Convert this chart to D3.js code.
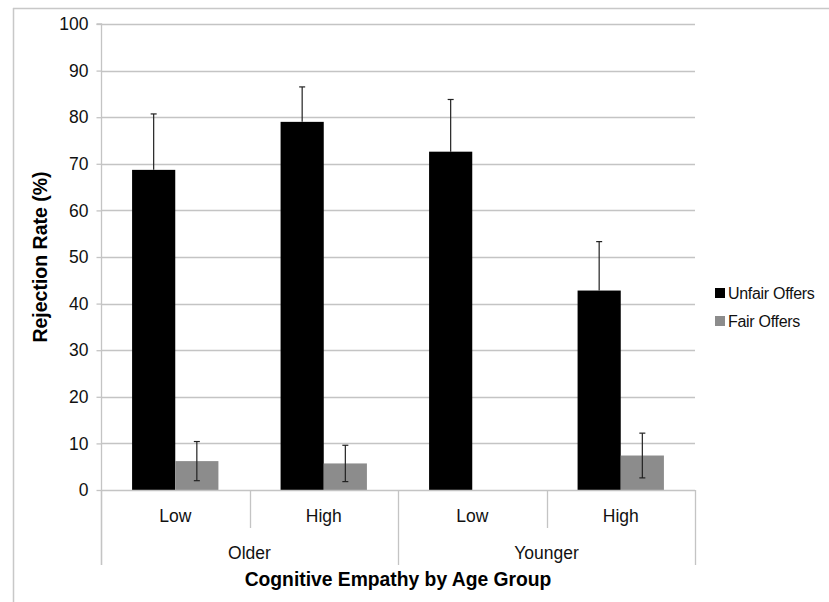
<!DOCTYPE html>
<html><head><meta charset="utf-8">
<script src="https://cdn.jsdelivr.net/npm/d3@7"></script>
<style>body{margin:0;background:#fff}svg{display:block}text{font-family:"Liberation Sans",Arial,sans-serif}</style>
</head><body>
<svg id="c" width="829" height="602"></svg>
<script>
const groups = ["Older", "Younger"];
const levels = ["Low", "High"];
const categories = ["Older-Low", "Older-High", "Younger-Low", "Younger-High"];
const seriesNames = ["Unfair Offers", "Fair Offers"];
const unfairValues = [68.7, 79.0, 72.6, 42.8];
const unfairErrors = [12.0, 7.5, 11.2, 10.5];
const fairValues = [6.2, 5.7, 0, 7.4];
const fairErrors = [4.2, 3.9, 0, 4.8];
const yTicks = [0, 10, 20, 30, 40, 50, 60, 70, 80, 90, 100];
const colors = ["#000000", "#8c8c8c"];

const svg = d3.select("#c");
const L = 101, R = 695, T = 24, B = 490;
const grid = "#c4c4c4";
const fs = 17.5;

// outer frame (top & left only visible)
svg.append("line").attr("x1", 13).attr("x2", 829).attr("y1", 8.5).attr("y2", 8.5).attr("stroke", "#c8c8c8").attr("stroke-width", 1.5);
svg.append("line").attr("x1", 13.5).attr("x2", 13.5).attr("y1", 8).attr("y2", 602).attr("stroke", "#c8c8c8").attr("stroke-width", 1.5);

const y = d3.scaleLinear().domain([0, 100]).range([B, T]);
const x0 = d3.scaleBand().domain(categories).range([L, R]);
const x1 = d3.scaleBand().domain(seriesNames).range([0, x0.bandwidth()]).paddingOuter(0.72);

// gridlines
svg.append("g").selectAll("line").data(yTicks.filter(d => d > 0)).join("line")
  .attr("x1", L).attr("x2", R).attr("y1", d => Math.round(y(d)) + 0.5).attr("y2", d => Math.round(y(d)) + 0.5)
  .attr("stroke", grid).attr("stroke-width", 1.3);

// y axis
const yAxis = d3.axisLeft(y).tickValues(yTicks).tickSize(5).tickPadding(8);
const ya = svg.append("g").attr("transform", `translate(${L + 0.5},0)`).call(yAxis);
ya.select(".domain").attr("stroke", grid).attr("stroke-width", 1.3).attr("d", `M-5,${T}H0V565`);
ya.selectAll(".tick line").attr("stroke", grid).attr("stroke-width", 1.3);
ya.selectAll(".tick text").attr("font-size", fs).attr("fill", "#111").attr("font-family", "Liberation Sans, Arial, sans-serif");

// bars
const data = categories.map((c, i) => ({ c, vals: [
  { s: seriesNames[0], v: unfairValues[i], e: unfairErrors[i], col: colors[0] },
  { s: seriesNames[1], v: fairValues[i], e: fairErrors[i], col: colors[1] }
]}));
const gc = svg.append("g").selectAll("g").data(data).join("g").attr("transform", d => `translate(${x0(d.c)},0)`);
gc.selectAll("rect").data(d => d.vals.filter(v => v.v > 0)).join("rect")
  .attr("x", d => x1(d.s)).attr("width", x1.bandwidth())
  .attr("y", d => y(d.v)).attr("height", d => B - y(d.v)).attr("fill", d => d.col);
// error bars
const cx = d => x1(d.s) + x1.bandwidth() / 2;
const eb = gc.selectAll("g.err").data(d => d.vals.filter(v => v.v > 0)).join("g").attr("class", "err");
eb.append("line").attr("x1", cx).attr("x2", cx)
  .attr("y1", d => y(d.v + d.e)).attr("y2", d => d.col === colors[0] ? y(d.v) : y(Math.max(0, d.v - d.e)))
  .attr("stroke", "#222").attr("stroke-width", 1.2);
eb.append("line").attr("x1", d => cx(d) - 3).attr("x2", d => cx(d) + 3)
  .attr("y1", d => y(d.v + d.e)).attr("y2", d => y(d.v + d.e)).attr("stroke", "#222").attr("stroke-width", 1.2);
eb.filter(d => d.col !== colors[0]).append("line").attr("x1", d => cx(d) - 3).attr("x2", d => cx(d) + 3)
  .attr("y1", d => y(d.v - d.e)).attr("y2", d => y(d.v - d.e)).attr("stroke", "#222").attr("stroke-width", 1.2);

// x axis line
svg.append("line").attr("x1", L).attr("x2", R).attr("y1", B + 0.5).attr("y2", B + 0.5).attr("stroke", grid).attr("stroke-width", 1.3);
// separators
const bounds = categories.map(c => x0(c)).concat([R]);
svg.append("g").selectAll("line").data(bounds).join("line")
  .attr("x1", d => Math.round(d) + 0.5).attr("x2", d => Math.round(d) + 0.5)
  .attr("y1", B).attr("y2", (d, i) => (i % 2 === 0) ? 565 : 528)
  .attr("stroke", grid).attr("stroke-width", 1.3);
// level labels
svg.append("g").selectAll("text").data(categories).join("text")
  .attr("x", c => x0(c) + x0.bandwidth() / 2).attr("y", 522)
  .attr("text-anchor", "middle").attr("font-size", fs).attr("fill", "#111")
  .text((c, i) => levels[i % 2]);
// group labels
svg.append("g").selectAll("text").data(groups).join("text")
  .attr("x", (g, i) => x0(categories[i * 2]) + x0.bandwidth()).attr("y", 559)
  .attr("text-anchor", "middle").attr("font-size", fs).attr("fill", "#111").text(g => g);

// axis titles
svg.append("text").attr("x", (L + R) / 2).attr("y", 586).attr("text-anchor", "middle")
  .attr("font-size", 19.3).attr("font-weight", "bold").text("Cognitive Empathy by Age Group");
svg.append("text").attr("transform", `translate(47,${(T + B) / 2}) rotate(-90)`).attr("text-anchor", "middle")
  .attr("font-size", 19.5).attr("font-weight", "bold").text("Rejection Rate (%)");

// legend
const lg = svg.append("g").selectAll("g").data(seriesNames).join("g")
  .attr("transform", (d, i) => `translate(715,${288 + i * 28})`);
lg.append("rect").attr("width", 10).attr("height", 10).attr("fill", (d, i) => colors[i]);
lg.append("text").attr("x", 13).attr("y", 10.5).attr("font-size", 16).attr("letter-spacing", -0.3).attr("fill", "#111").text(d => d);
</script>
</body></html>
